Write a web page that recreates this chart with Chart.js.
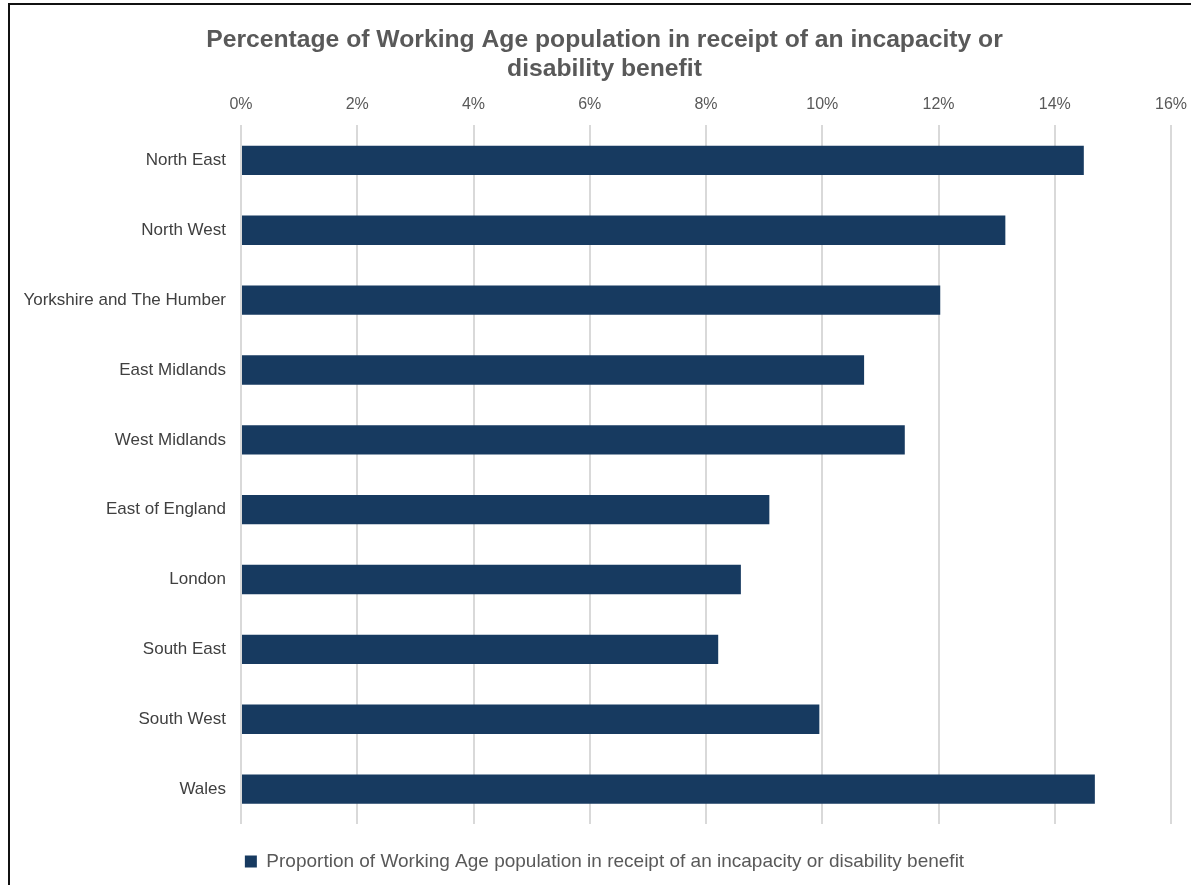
<!DOCTYPE html>
<html>
<head>
<meta charset="utf-8">
<script src="https://cdn.jsdelivr.net/npm/chart.js@4"></script>
<style>
  html, body { margin: 0; padding: 0; background: #fff; }
  #wrap { position: relative; width: 1191px; height: 885px; overflow: hidden; }
  #frame { position: absolute; left: 8px; top: 3px; width: 1300px; height: 1000px;
           border-left: 2px solid #111; border-top: 2px solid #111; pointer-events: none; }
  canvas { position: absolute; left: 0; top: 0; }
</style>
</head>
<body>
<div id="wrap">
  <canvas id="c" width="1191" height="885"></canvas>
  <div id="frame"></div>
</div>
<script>
const categories = ["North East", "North West", "Yorkshire and The Humber", "East Midlands",
  "West Midlands", "East of England", "London", "South East", "South West", "Wales"];
const values = [14.5, 13.15, 12.03, 10.72, 11.42, 9.09, 8.6, 8.21, 9.95, 14.69];
const seriesName = "Proportion of Working Age population in receipt of an incapacity or disability benefit";
const titleLines = ["Percentage of Working Age population in receipt of an incapacity or", "disability benefit"];
const xTicks = [0, 2, 4, 6, 8, 10, 12, 14, 16];

const FONT = "'Liberation Sans', Arial, sans-serif";

// let the long category labels extend left of the layout padding (no clipping)
const unclipLabels = {
  id: 'unclipLabels',
  afterLayout(chart) { chart.scales.y.left = 0; }
};

new Chart(document.getElementById('c'), {
  type: 'bar',
  data: {
    labels: categories,
    datasets: [{
      label: seriesName,
      data: values,
      backgroundColor: '#173a60',
      borderWidth: 0,
      categoryPercentage: 1.0,
      barPercentage: 0.42
    }]
  },
  plugins: [unclipLabels],
  options: {
    indexAxis: 'y',
    responsive: false,
    animation: false,
    devicePixelRatio: 1,
    layout: { padding: { left: 38, right: 20, top: 21, bottom: 4 } },
    plugins: {
      title: {
        display: true,
        text: titleLines,
        color: '#595959',
        font: { family: FONT, size: 24.7, weight: 'bold', lineHeight: 1.2 },
        padding: { top: 4, bottom: 0 }
      },
      legend: {
        display: true,
        position: 'bottom',
        title: { display: true, text: '', font: { size: 1, lineHeight: 1 }, padding: { top: 0, bottom: 19 } },
        labels: {
          color: '#595959',
          font: { family: FONT, size: 19 },
          boxWidth: 12,
          boxHeight: 12,
          padding: 8
        }
      },
      tooltip: { enabled: false }
    },
    scales: {
      x: {
        position: 'top',
        min: 0,
        max: 16,
        afterBuildTicks: (s) => { s.ticks = xTicks.map(v => ({ value: v })); },
        afterFit: (s) => { s.paddingRight = 0; s.paddingLeft = 0; },
        ticks: {
          color: '#595959',
          font: { family: FONT, size: 16 },
          padding: 11,
          callback: (v) => v + '%'
        },
        grid: { color: '#d9d9d9', lineWidth: 2, drawTicks: false },
        border: { display: false }
      },
      y: {
        afterFit: (s) => { s.width = 203; },
        ticks: {
          color: '#404040',
          font: { family: FONT, size: 17 },
          padding: 15
        },
        grid: { display: false, drawTicks: false },
        border: { display: false }
      }
    }
  }
});
</script>
</body>
</html>
